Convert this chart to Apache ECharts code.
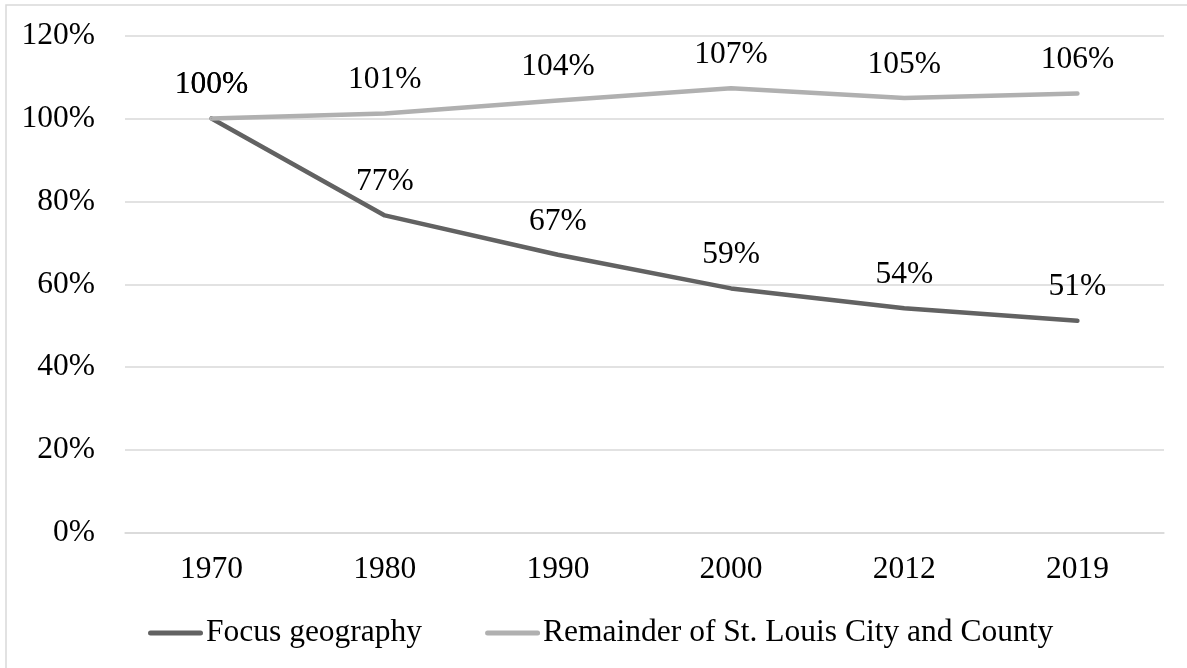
<!DOCTYPE html>
<html lang="en">
<head>
<meta charset="utf-8">
<title>Focus geography vs remainder</title>
<script src="https://cdn.jsdelivr.net/npm/echarts@6/dist/echarts.min.js"></script>
<style>
  html, body { margin: 0; padding: 0; background: #fff; }
  #main { width: 1187px; height: 668px; }
</style>
</head>
<body>
<div id="main"></div>
<script>
// data (percent of 1970 level)
var years = ['1970', '1980', '1990', '2000', '2012', '2019'];
var focusVals = [100, 76.6, 67.1, 59.0, 54.2, 51.2];
var restVals = [100, 101.2, 104.3, 107.3, 104.9, 106.0];
var seriesNames = ['Focus geography', 'Remainder of St. Louis City and County'];

var FONT = "'Liberation Serif', 'Times New Roman', serif";
var FS = 31.5;

var myChart = echarts.init(document.getElementById('main'));

function lineSeries(name, data, color) {
    return {
        name: name,
        type: 'line',
        data: data,
        symbol: 'circle',
        symbolSize: 1,
        showSymbol: true,
        lineStyle: { color: color, width: 4.5, cap: 'round', join: 'round' },
        itemStyle: { color: color },
        label: {
            show: true,
            position: 'top',
            distance: 17,
            color: '#000',
            fontFamily: FONT,
            fontSize: FS,
            formatter: function (p) { return Math.round(p.value) + '%'; }
        },
        emphasis: { disabled: true },
        animation: false
    };
}

var option = {
    backgroundColor: '#fff',
    animation: false,
    textStyle: { fontFamily: FONT },
    graphic: [{
        type: 'rect',
        shape: { x: 6, y: 5, width: 1300, height: 800 },
        style: { fill: 'none', stroke: '#D9D9D9', lineWidth: 1.5 },
        silent: true,
        z: -10
    }],
    grid: { left: 125, right: 23, top: 35.5, bottom: 135 },
    legend: {
        data: seriesNames,
        left: 143,
        top: 612,
        itemGap: 63,
        itemWidth: 57,
        itemHeight: 5,
        icon: 'path://M2.5,0 H52.5 A2.5,2.5 0 0 1 52.5,5 H2.5 A2.5,2.5 0 0 1 2.5,0 Z',
        textStyle: { color: '#000', fontFamily: FONT, fontSize: 31.5, padding: [0, 0, 0, -3] }
    },
    xAxis: {
        type: 'category',
        data: years,
        boundaryGap: true,
        axisLine: { show: true, lineStyle: { color: '#D9D9D9', width: 1.5 } },
        axisTick: { show: false },
        axisLabel: { color: '#000', fontFamily: FONT, fontSize: FS, margin: 21 }
    },
    yAxis: {
        type: 'value',
        min: 0,
        max: 120,
        interval: 20,
        axisLine: { show: false },
        axisTick: { show: false },
        splitLine: { lineStyle: { color: '#D9D9D9', width: 1.5 } },
        axisLabel: { color: '#000', fontFamily: FONT, fontSize: FS, margin: 30, formatter: '{value}%' }
    },
    series: [
        lineSeries(seriesNames[0], focusVals, '#626262'),
        lineSeries(seriesNames[1], restVals, '#B0B0B0')
    ]
};

myChart.setOption(option);
</script>
</body>
</html>
